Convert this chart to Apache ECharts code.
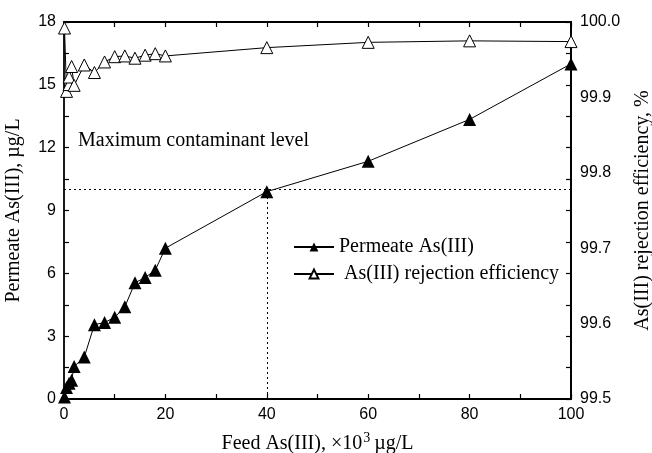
<!DOCTYPE html>
<html>
<head>
<meta charset="utf-8">
<script src="https://cdn.jsdelivr.net/npm/echarts@6/dist/echarts.min.js"></script>
<style>
* { margin: 0; padding: 0; }
#main { width: 652px; height: 453px; background: #fff; }
</style>
</head>
<body>
<div id="main"></div>
<script>
// feed As(III), x10^3 ug/L
var feed = [0.1, 0.5, 1, 1.5, 2, 4, 6, 8, 10, 12, 14, 16, 18, 20, 40, 60, 80, 100];
// permeate As(III), ug/L
var permeate = [0.1, 0.55, 0.75, 0.9, 1.55, 2.0, 3.55, 3.65, 3.9, 4.4, 5.55, 5.8, 6.15, 7.2, 9.9, 11.35, 13.35, 16.0];
// rejection efficiency, %
var rejFeed = [0.1, 0.5, 1, 1, 1.5, 2, 4, 6, 8, 10, 12, 14, 16, 18, 20, 40, 60, 80, 100];
var rejection = [99.992, 99.908, 99.917, 99.927, 99.941, 99.916, 99.943, 99.933, 99.947, 99.954, 99.955, 99.952, 99.956, 99.958, 99.955, 99.966, 99.973, 99.975, 99.974];
var mcl = 10; // maximum contaminant level
var mclFeed = 40;

var serif = "'Liberation Serif', 'DejaVu Serif', serif";
var sans = "'Liberation Sans', Arial, sans-serif";

var chart = echarts.init(document.getElementById("main"));

function pairs(xs, ys) {
  return xs.map(function (x, i) { return [x, ys[i]]; });
}

// box axes: black line, ticks pointing in
function frame(extra) {
  return Object.assign({
    axisLine: { show: true, onZero: false, lineStyle: { color: "#000", width: 1.8 } },
    axisTick: { show: true, inside: true, length: 5, lineStyle: { color: "#000", width: 1.2 } },
    minorTick: { show: true, splitNumber: 2, length: 5, lineStyle: { color: "#000", width: 1.2 } },
    splitLine: { show: false }
  }, extra);
}

chart.setOption({
  animation: false,
  backgroundColor: "#fff",
  grid: { left: 64, right: 81, top: 22, bottom: 54, outerBoundsMode: "none" },
  legend: {
    left: 288,
    top: 232,
    orient: "vertical",
    itemWidth: 40,
    itemHeight: 11,
    itemGap: 7,
    textStyle: { fontFamily: serif, fontSize: 20, color: "#000" },
    data: ["Permeate As(III)", " As(III) rejection efficiency"]
  },
  xAxis: [
    frame({
      type: "value", min: 0, max: 100, interval: 20, position: "bottom",
      name: "Feed As(III), ×10{sup|3}µg/L",
      nameLocation: "middle", nameGap: 32,
      nameTextStyle: {
        fontFamily: serif, fontSize: 20, color: "#000",
        rich: { sup: { fontFamily: serif, fontSize: 14, verticalAlign: "top", padding: [0, 4, 12, 1] } }
      },
      axisLabel: { fontFamily: sans, fontSize: 16, color: "#000", margin: 8 }
    }),
    frame({
      type: "value", min: 0, max: 100, interval: 20, position: "top",
      axisLabel: { show: false }
    })
  ],
  yAxis: [
    frame({
      type: "value", min: 0, max: 18, interval: 3, position: "left",
      name: "Permeate As(III), µg/L",
      nameLocation: "middle", nameGap: 40,
      nameTextStyle: { fontFamily: serif, fontSize: 20, color: "#000" },
      axisLabel: { fontFamily: sans, fontSize: 16, color: "#000", margin: 8 }
    }),
    frame({
      type: "value", min: 99.5, max: 100, interval: 0.1, position: "right",
      name: "As(III) rejection efficiency, %",
      nameLocation: "middle", nameGap: 62, nameRotate: 90,
      nameTextStyle: { fontFamily: serif, fontSize: 20, color: "#000" },
      axisTick: { show: false },
      minorTick: { show: false },
      axisLabel: {
        fontFamily: sans, fontSize: 16, color: "#000", margin: 9,
        formatter: function (v) { return v.toFixed(1); }
      }
    }),
    // right frame ticks mirror the left axis
    frame({
      type: "value", min: 0, max: 18, interval: 3, position: "right",
      axisLabel: { show: false }
    })
  ],
  series: [
    {
      name: "Permeate As(III)",
      type: "line",
      xAxisIndex: 0, yAxisIndex: 0,
      data: pairs(feed, permeate),
      symbol: "triangle", symbolSize: 13,
      itemStyle: { color: "#000" },
      lineStyle: { color: "#000", width: 1 },
      markLine: {
        silent: true, symbol: "none",
        label: { show: false },
        lineStyle: { color: "#000", type: [2, 3], width: 1 },
        data: [
          [{ coord: [0, mcl] }, { coord: [100, mcl] }],
          [{ coord: [mclFeed, 0] }, { coord: [mclFeed, mcl] }]
        ]
      }
    },
    {
      name: " As(III) rejection efficiency",
      type: "line",
      xAxisIndex: 0, yAxisIndex: 1,
      data: pairs(rejFeed, rejection),
      symbol: "triangle", symbolSize: 12,
      itemStyle: { color: "#fff", borderColor: "#000", borderWidth: 1 },
      lineStyle: { color: "#000", width: 1 }
    }
  ],
  graphic: [
    {
      type: "text", left: 78, top: 131,
      style: { text: "Maximum contaminant level", font: "20px " + serif, fill: "#000" }
    }
  ]
});
</script>
</body>
</html>
